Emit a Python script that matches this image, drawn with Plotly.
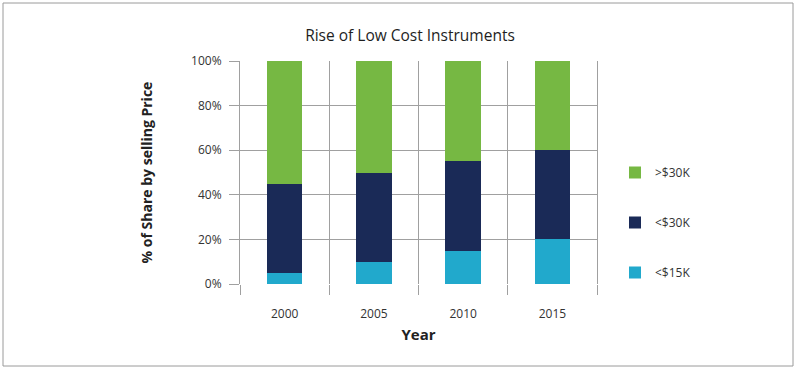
import plotly.graph_objects as go

years = ["2000", "2005", "2010", "2015"]
under_15k = [5, 10, 15, 20]
under_30k = [40, 40, 40, 40]
over_30k = [55, 50, 45, 40]

series_names = ["&lt;$15K", "&lt;$30K", "&gt;$30K"]
series_colors = ["#21a9cc", "#1a2a57", "#76b843"]
series_values = [under_15k, under_30k, over_30k]
legend_ranks = [3, 2, 1]

y_tickvals = [0, 20, 40, 60, 80, 100]
y_ticktext = ["0%", "20%", "40%", "60%", "80%", "100%"]

fig = go.Figure()
for i, (name, vals, col) in enumerate(zip(series_names, series_values, series_colors)):
    fig.add_trace(go.Bar(
        x=years, y=vals, name=name, marker=dict(color=col, line=dict(width=0)),
        width=0.4, legendgroup=f"g{i}", legendrank=legend_ranks[i],
    ))

W, H = 797, 370
L, R, T, B = 240, 200, 61, 86
pw, ph = W - L - R, H - T - B

def px_to_paper_x(px):
    return (px - L) / pw

def px_to_paper_y(py):
    return (H - B - py) / ph

font = "Open Sans, DejaVu Sans, sans-serif"
grid = "#a0a0a0"

fig.update_layout(
    width=W, height=H,
    margin=dict(l=L, r=R, t=T, b=B, autoexpand=False),
    barmode="stack",
    plot_bgcolor="white", paper_bgcolor="white",
    font=dict(family=font, color="#333333", size=12),
    title=dict(text="Rise of Low Cost Instruments", x=px_to_paper_x(410), xref="paper",
               xanchor="center", y=1 - 36 / H, yanchor="middle",
               font=dict(size=15.5, color="#1e1e1e", family=font)),
    xaxis=dict(
        tickson="boundaries", ticks="outside", ticklen=10, tickcolor=grid,
        showgrid=True, gridcolor=grid, gridwidth=1,
        tickfont=dict(size=12, color="#333333"), ticklabelstandoff=21,
        title=dict(text="<b>Year</b>", font=dict(size=15, color="#222222"), standoff=8),
        showline=False, zeroline=False,
    ),
    yaxis=dict(
        range=[0, 100], tickmode="array", tickvals=y_tickvals, ticktext=y_ticktext,
        ticks="outside", ticklen=10, tickcolor=grid,
        showgrid=True, gridcolor=grid, gridwidth=1,
        tickfont=dict(size=12, color="#333333"), ticklabelstandoff=5,
        title=dict(text="<b>% of Share by selling Price</b>", font=dict(size=14, color="#222222"), standoff=35),
        showline=True, linecolor=grid, linewidth=1, mirror=True, zeroline=False,
    ),
    legend=dict(
        x=px_to_paper_x(615), y=px_to_paper_y(158), xanchor="left", yanchor="top",
        traceorder="grouped", tracegroupgap=31,
        font=dict(size=12, color="#333333"), bgcolor="rgba(0,0,0,0)",
    ),
    shapes=[dict(
        type="rect", xref="paper", yref="paper",
        x0=px_to_paper_x(3), x1=px_to_paper_x(793),
        y0=px_to_paper_y(366), y1=px_to_paper_y(3),
        line=dict(color="#9a9a9a", width=1), fillcolor="rgba(0,0,0,0)", layer="below",
    )],
)

fig.write_html("out.html", post_script="document.body.style.margin='0';",
               config={"displayModeBar": False})
